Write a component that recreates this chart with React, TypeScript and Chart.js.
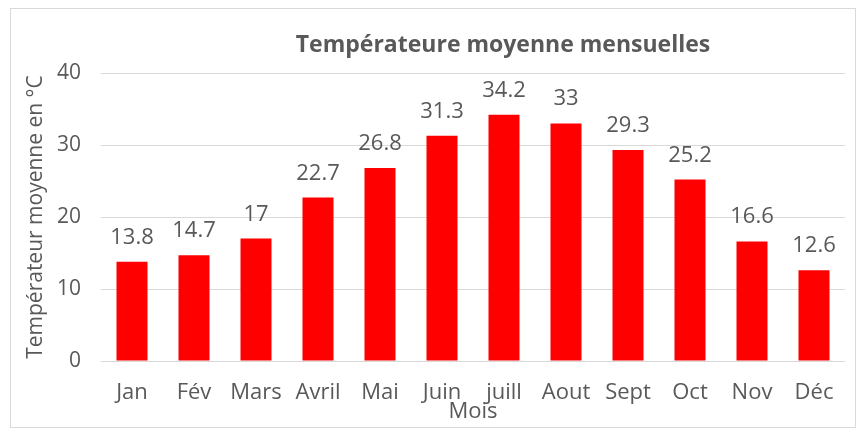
import React, { useEffect, useRef } from "react";
import { Chart, registerables } from "chart.js";

Chart.register(...registerables);

const months = ["Jan", "Fév", "Mars", "Avril", "Mai", "Juin", "juill", "Aout", "Sept", "Oct", "Nov", "Déc"];
const temperatures = [13.8, 14.7, 17, 22.7, 26.8, 31.3, 34.2, 33, 29.3, 25.2, 16.6, 12.6];
const yTicks = [0, 10, 20, 30, 40];
const titleText = "Températeure moyenne mensuelles";
const yTitle = "Températeur moyenne en °C";
const xTitle = "Mois";

const FONT = "'Open Sans', Lato, sans-serif";
const GREY = "#595959";

const labelPlugin = {
  id: "barLabels",
  afterDatasetsDraw(chart: any) {
    const ctx = chart.ctx;
    const meta = chart.getDatasetMeta(0);
    ctx.save();
    ctx.font = `22px ${FONT}`;
    ctx.fillStyle = GREY;
    ctx.textAlign = "center";
    ctx.textBaseline = "alphabetic";
    meta.data.forEach((bar: any, i: number) => {
      ctx.fillText(String(temperatures[i]), bar.x, bar.y - 18);
    });
    ctx.restore();
  },
};

const titlePlugin = {
  id: "customTitle",
  afterDraw(chart: any) {
    const ctx = chart.ctx;
    const area = chart.chartArea;
    ctx.save();
    ctx.font = `bold 23px ${FONT}`;
    ctx.fillStyle = GREY;
    ctx.textAlign = "center";
    ctx.textBaseline = "alphabetic";
    ctx.fillText(titleText, (area.left + area.right) / 2 + 30, area.top - 21);
    ctx.restore();
  },
};

export default function App() {
  const ref = useRef<HTMLCanvasElement>(null);
  useEffect(() => {
    if (!ref.current) return;
    const chart = new Chart(ref.current, {
      type: "bar",
      data: {
        labels: months,
        datasets: [
          {
            data: temperatures,
            backgroundColor: "#ff0000",
            borderWidth: 0,
            categoryPercentage: 1,
            barPercentage: 0.5,
          },
        ],
      },
      options: {
        animation: false,
        responsive: false,
        maintainAspectRatio: false,
        layout: { padding: { top: 64, right: 10, bottom: 0, left: 0 } },
        plugins: {
          legend: { display: false },
          title: { display: false },
          tooltip: { enabled: false },
        },
        scales: {
          x: {
            afterFit: (scale: any) => {
              scale.height = 66;
            },
            grid: { display: false, drawTicks: false },
            border: { display: false },
            ticks: { color: GREY, font: { family: FONT, size: 22 }, padding: 19, maxRotation: 0, autoSkip: false },
            title: {
              display: true,
              text: xTitle,
              color: GREY,
              font: { family: FONT, size: 22 },
              padding: { top: 0, bottom: 2 },
            },
          },
          y: {
            min: 0,
            max: 40,
            afterFit: (scale: any) => {
              scale.width = 90;
            },
            afterBuildTicks: (axis: any) => {
              axis.ticks = yTicks.map((v) => ({ value: v }));
            },
            grid: { color: "#d9d9d9", lineWidth: 1, drawTicks: false },
            border: { display: false },
            ticks: { color: GREY, font: { family: FONT, size: 21 }, padding: 20 },
            title: {
              display: true,
              text: yTitle,
              color: GREY,
              font: { family: FONT, size: 21 },
              padding: { top: 12, bottom: 12 },
            },
          },
        },
      },
      plugins: [labelPlugin, titlePlugin],
    });
    return () => chart.destroy();
  }, []);

  return (
    <div
      style={{
        position: "absolute",
        left: 10,
        top: 8,
        width: 846,
        height: 420,
        border: "1px solid #d9d9d9",
        background: "#fff",
        boxSizing: "border-box",
      }}
    >
      <canvas ref={ref} width={844} height={418} style={{ display: "block" }} />
    </div>
  );
}
